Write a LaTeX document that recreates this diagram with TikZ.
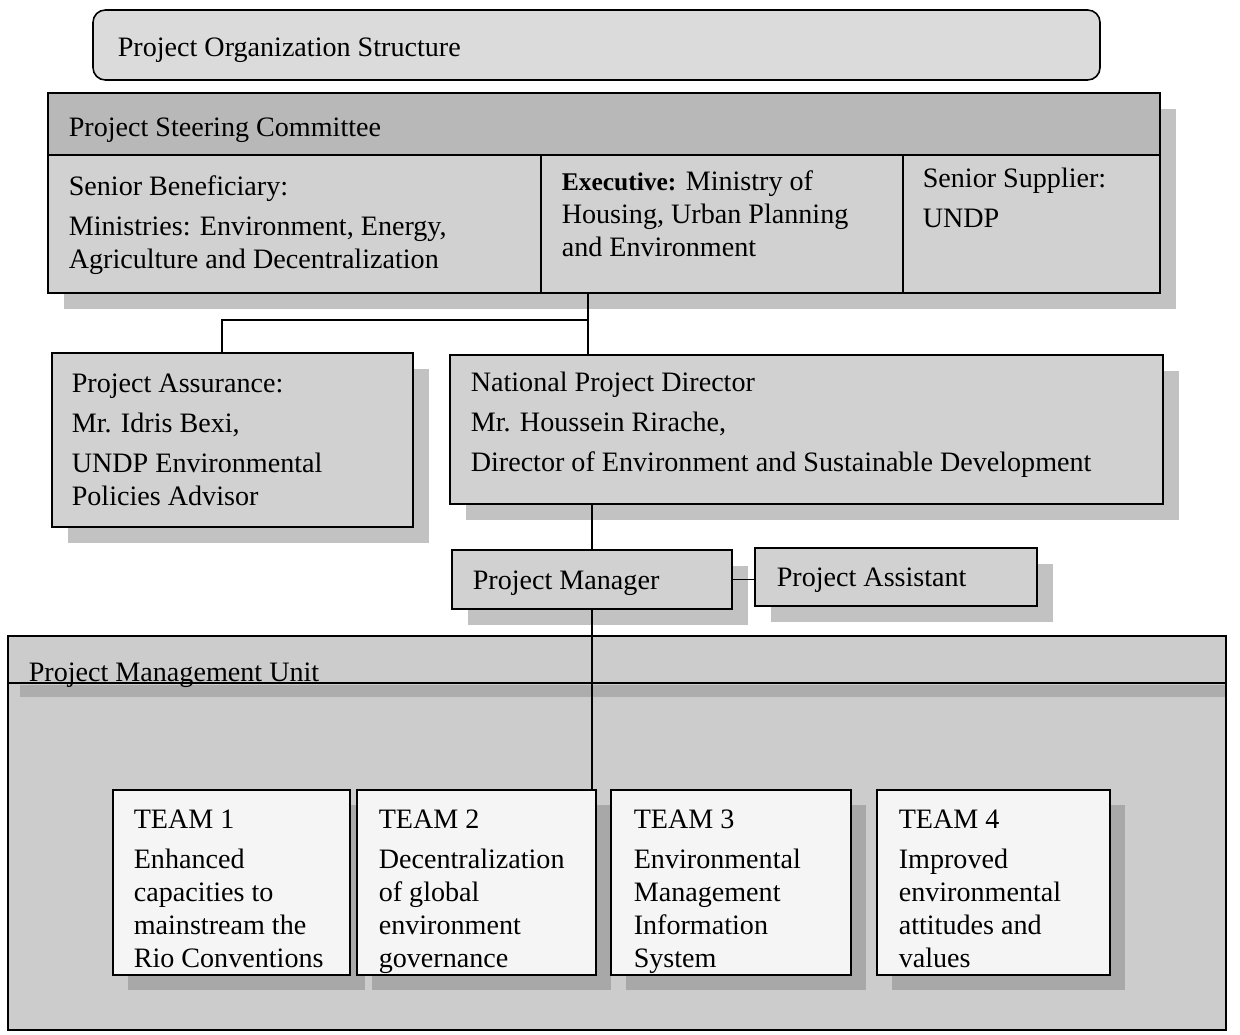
\documentclass[tikz,border=0pt]{standalone}
\usepackage{fontspec}
\setmainfont{Liberation Serif}
\usetikzlibrary{shadows, fit, positioning}

\definecolor{titlegray}{gray}{0.86}
\definecolor{boxgray}{gray}{0.82}
\definecolor{headgray}{gray}{0.72}
\definecolor{shadowgray}{gray}{0.76}
\definecolor{unitgray}{gray}{0.80}
\definecolor{bandgray}{gray}{0.68}
\definecolor{teamgray}{gray}{0.96}
\definecolor{teamshadow}{gray}{0.66}

\tikzset{
  box/.style={draw, line width=0.9pt, fill=boxgray, inner sep=0pt, outer sep=0pt},
  shadebox/.style={box, drop shadow={shadow xshift=0.32cm, shadow yshift=-0.32cm, fill=shadowgray, opacity=1}},
  teambox/.style={box, fill=teamgray, drop shadow={shadow xshift=0.3cm, shadow yshift=-0.3cm, fill=teamshadow, opacity=1}},
  txt/.style={anchor=north west, inner sep=0pt, align=left, font=\fontsize{16}{18.8}\selectfont},
}

\begin{document}
\begin{tikzpicture}[x=0.02cm, y=-0.02cm, line width=0.9pt]
\useasboundingbox (0,0) rectangle (1240,1034);

% heading
\node[box, fill=titlegray, rounded corners=7pt, fit={(93,10) (1100,80)}] (title) {};
\node[txt] (title-t) at (117,37) {Project Organization Structure};

% steering committee with its three members
\node[shadebox, fit={(48,93) (1160,293)}] (psc) {};
\fill[headgray] (psc.north west) rectangle (1160,155);
\draw (psc.north west) rectangle (psc.south east);
\draw (psc.west |- 0,155) coordinate (psc-h) -- (psc.east |- 0,155);
\draw (541,155) coordinate (div1) -- (div1 |- psc.south);
\draw (903,155) coordinate (div2) -- (div2 |- psc.south);
\node[txt] (psc-t) at (68,117) {Project Steering Committee};
\node[txt] (benef) at (68,175) {Senior Beneficiary:\\[4pt]
  Ministries: Environment, Energy,\\ Agriculture and Decentralization};
\node[txt] (exec) at (561,170) {{\fontsize{14.5}{18.8}\selectfont\bfseries Executive:} Ministry of\\
  Housing, Urban Planning\\ and Environment};
\node[txt] (suppl) at (922,167) {Senior Supplier:\\[4pt] UNDP};

% assurance and director
\node[shadebox, fit={(52,353) (413,527)}] (pa) {};
\node[txt] (pa-t) at (71,373) {Project Assurance:\\[4pt] Mr. Idris Bexi,\\[4pt]
  UNDP Environmental\\ Policies Advisor};
\node[shadebox, fit={(450,355) (1163,504)}] (npd) {};
\node[txt] (npd-t) at (470,371) {National Project Director\\[4pt]
  Mr. Houssein Rirache,\\[4pt] Director of Environment and Sustainable Development};

\coordinate (j1) at (588,320);
\draw (psc.south -| j1) -- (npd.north -| j1);
\draw (j1) -| (pa.north -| 222,0);

% manager and assistant
\node[shadebox, fit={(452,550) (732,609)}] (pm) {};
\node[txt] (pm-t) at (472,570) {Project Manager};
\node[shadebox, fit={(755,548) (1037,606)}] (asst) {};
\node[txt] (asst-t) at (776,567) {Project Assistant};
\draw (npd.south -| pm.north) -- (pm.north);
\draw (pm.east) -- (pm.east -| asst.west);

% management unit
\node[box, fill=unitgray, fit={(8,636) (1226,1030)}] (pmu) {};
\fill[bandgray] (20,685) rectangle (1225,697);
\draw (pmu.west |- 0,683) -- (pmu.east |- 0,683);
\node[txt] (pmu-t) at (28,662) {Project Management Unit};

% teams
\node[teambox, fit={(113,790) (350,975)}] (t1) {};
\node[teambox, fit={(357,790) (596,975)}] (t2) {};
\node[teambox, fit={(611,790) (851,975)}] (t3) {};
\node[teambox, fit={(877,790) (1110,975)}] (t4) {};
\node[txt] (t1-t) at (133,809) {TEAM 1\\[4pt] Enhanced\\ capacities to\\ mainstream the\\ Rio Conventions};
\node[txt] (t2-t) at (378,809) {TEAM 2\\[4pt] Decentralization\\ of global\\ environment\\ governance};
\node[txt] (t3-t) at (633,809) {TEAM 3\\[4pt] Environmental\\ Management\\ Information\\ System};
\node[txt] (t4-t) at (898,809) {TEAM 4\\[4pt] Improved\\ environmental\\ attitudes and\\ values};

\draw (pm.south) -- (pm.south |- t2.north);

\end{tikzpicture}
\end{document}
